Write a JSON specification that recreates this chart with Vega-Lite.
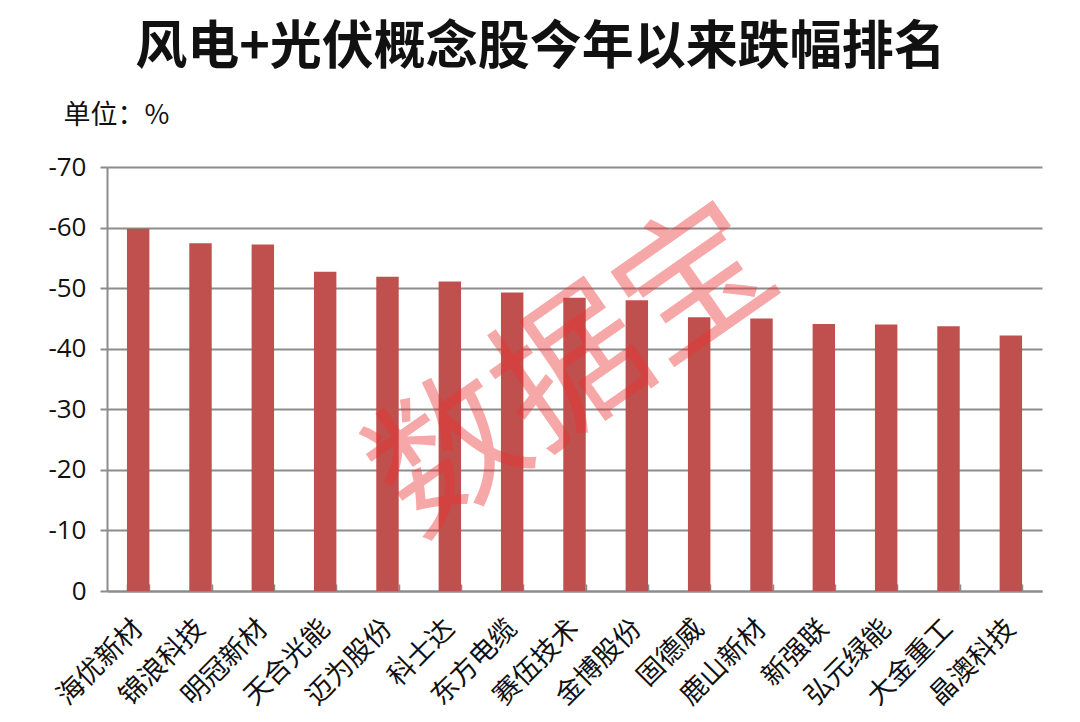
{
  "$schema": "https://vega.github.io/schema/vega-lite/v6.json",
  "width": 935,
  "height": 424,
  "autosize": {"type": "none"},
  "padding": {"left": 107, "top": 167, "right": 38, "bottom": 131},
  "background": "white",
  "title": {
    "text": "风电+光伏概念股今年以来跌幅排名",
    "anchor": "middle",
    "font": "Noto Sans CJK SC",
    "fontSize": 52,
    "fontWeight": "bold",
    "color": "#111111",
    "offset": 26,
    "dx": -34
  },
  "data": {
    "values": [
      {"name": "海优新材", "value": -59.8},
      {"name": "锦浪科技", "value": -57.4},
      {"name": "明冠新材", "value": -57.2},
      {"name": "天合光能", "value": -52.7},
      {"name": "迈为股份", "value": -51.9},
      {"name": "科士达", "value": -51.1},
      {"name": "东方电缆", "value": -49.3},
      {"name": "赛伍技术", "value": -48.4},
      {"name": "金博股份", "value": -48.0},
      {"name": "固德威", "value": -45.2},
      {"name": "鹿山新材", "value": -45.0},
      {"name": "新强联", "value": -44.1},
      {"name": "弘元绿能", "value": -44.0},
      {"name": "大金重工", "value": -43.7},
      {"name": "晶澳科技", "value": -42.2}
    ]
  },
  "encoding": {
    "x": {
      "field": "name",
      "type": "nominal",
      "sort": null,
      "scale": {"paddingInner": 0.64, "paddingOuter": 0.32},
      "axis": {
        "title": null,
        "labelAngle": -45,
        "labelAlign": "right",
        "labelBaseline": "middle",
        "labelFont": "Noto Sans CJK SC",
        "labelFontSize": 27,
        "labelColor": "#111111",
        "labelPadding": 40,
        "tickBand": "extent",
        "tickSize": -7,
        "tickColor": "#8c8c8c",
        "tickWidth": 1.5,
        "domainColor": "#8c8c8c",
        "domainWidth": 2,
        "grid": false
      }
    }
  },
  "layer": [
    {
      "mark": {"type": "bar", "color": "#C0504D"},
      "encoding": {
        "y": {
          "field": "value",
          "type": "quantitative",
          "scale": {"domain": [-70, 0], "reverse": true, "nice": false},
          "axis": {
            "title": "单位：%",
            "titleAngle": 0,
            "titleAlign": "left",
            "titleBaseline": "middle",
            "titleX": -44,
            "titleY": -52,
            "titleFont": "Noto Sans CJK SC",
            "titleFontSize": 27,
            "titleFontWeight": "normal",
            "titleColor": "#111111",
            "values": [0, -10, -20, -30, -40, -50, -60, -70],
            "labelExpr": "datum.value == 0 ? '0' : '-' + abs(datum.value)",
            "labelFont": "Open Sans",
            "labelFontSize": 26,
            "labelColor": "#111111",
            "labelPadding": 14,
            "tickSize": 7,
            "tickColor": "#8c8c8c",
            "tickWidth": 2,
            "domainColor": "#8c8c8c",
            "domainWidth": 2,
            "gridColor": "#8c8c8c",
            "gridWidth": 2
          }
        }
      }
    },
    {
      "data": {"values": [{"wm": "数据宝"}]},
      "mark": {
        "type": "text",
        "font": "Noto Sans CJK SC",
        "fontSize": 150,
        "angle": -35,
        "color": "#ec3030",
        "opacity": 0.42,
        "align": "center",
        "baseline": "middle"
      },
      "encoding": {
        "x": {"datum": "赛伍技术", "type": "nominal"},
        "y": {"datum": -36, "type": "quantitative"},
        "text": {"field": "wm"}
      }
    }
  ],
  "config": {"view": {"stroke": null}}
}
